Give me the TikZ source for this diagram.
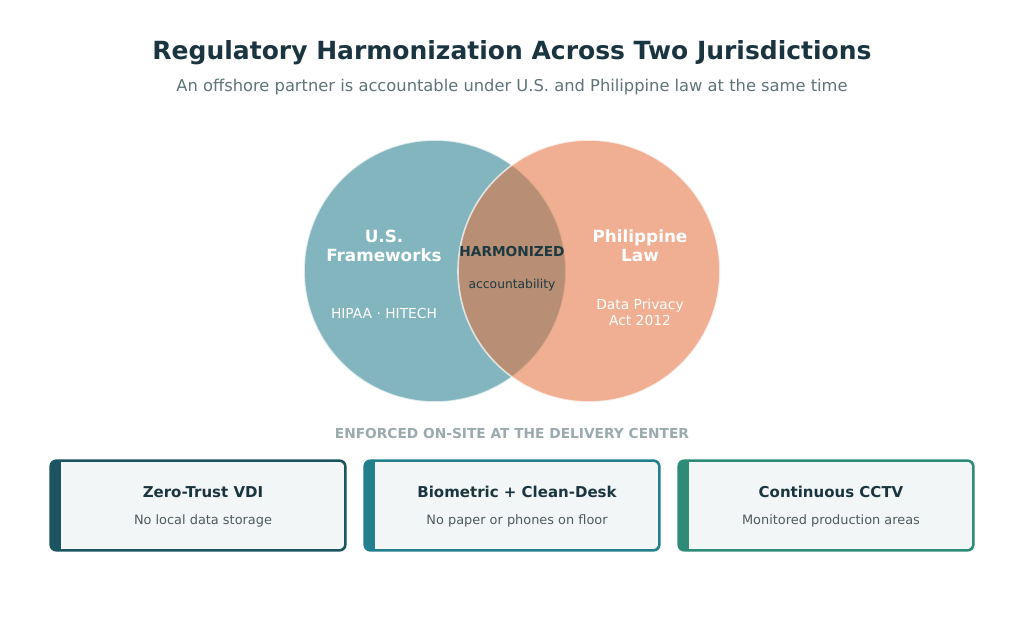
\documentclass[tikz,border=0pt]{standalone}
\usepackage{fontspec}
\setmainfont{DejaVu Sans}
\usetikzlibrary{positioning}
\definecolor{titlec}{HTML}{1B3540}
\definecolor{subc}{HTML}{5F7378}
\definecolor{usc}{HTML}{1E7A89}
\definecolor{phc}{HTML}{E46F39}
\definecolor{harmc}{HTML}{1C3A40}
\definecolor{enfc}{HTML}{9AAAAE}
\definecolor{boxfill}{HTML}{F2F6F7}
\definecolor{bA}{HTML}{1A5560}
\definecolor{bB}{HTML}{237F8C}
\definecolor{bC}{HTML}{2E8B78}
\definecolor{cardtext}{HTML}{4F5B5E}
\tikzset{
  venn/.style={circle, minimum size=262pt, inner sep=0pt, fill opacity=0.55, draw=white, draw opacity=0.7, line width=1.6pt},
  venntitle/.style={text=white, font=\bfseries\fontsize{16.8}{19}\selectfont, align=center},
  venntext/.style={text=white, font=\fontsize{13.8}{16}\selectfont, align=center},
  card/.style={rounded corners=6pt, fill=boxfill, line width=1.6pt, minimum width=294pt, minimum height=89pt, inner sep=0pt},
  cardtitle/.style={text=titlec, font=\bfseries\fontsize{15}{17}\selectfont},
  cardsub/.style={text=cardtext, font=\fontsize{12.9}{15}\selectfont},
}
\begin{document}
\begin{tikzpicture}[x=1pt,y=-1pt]
\useasboundingbox (0,0) rectangle (1024,616);
\fill[white] (0,0) rectangle (1024,616);
\node (title) at (512,53) {\bfseries\fontsize{25}{29}\selectfont\color{titlec}Regulatory Harmonization Across Two Jurisdictions};
\node (sub) at (512,87) {\fontsize{16.3}{19}\selectfont\color{subc}An offshore partner is accountable under U.S. and Philippine law at the same time};
% Venn
\node[venn, fill=usc] (us) at (435,271) {};
\node[venn, fill=phc] (ph) at (589,271) {};
\node[venntitle] (ust) at (384,246) {U.S.\\Frameworks};
\node[venntext] (ussub) at (384,313) {HIPAA · HITECH};
\node[venntitle] (pht) at (640,246) {Philippine\\Law};
\node[venntext] (phsub) at (640,312) {Data Privacy\\Act 2012};
\node[text=harmc, font=\bfseries\fontsize{13.7}{16}\selectfont] (harm) at (512,252) {HARMONIZED};
\node[text=harmc, font=\fontsize{12.3}{14}\selectfont] (acc) at (512,285) {accountability};
\node[text=enfc, font=\bfseries\fontsize{13.75}{16}\selectfont] (enf) at (512,433) {ENFORCED ON-SITE AT THE DELIVERY CENTER};
% cards
\foreach \cx/\col/\nm/\t/\s in {198/bA/cA/Zero-Trust VDI/No local data storage,
                                512/bB/cB/Biometric + Clean-Desk/No paper or phones on floor,
                                826/bC/cC/Continuous CCTV/Monitored production areas}{
  \node[card, draw=\col] (\nm) at (\cx,505.5) {};
  \begin{scope}
    \clip[rounded corners=6pt] (\nm.north west) rectangle (\nm.south east);
    \fill[\col] (\nm.north west) rectangle ([xshift=11pt]\nm.south west);
  \end{scope}
  \draw[\col, line width=1.6pt, rounded corners=6pt] (\nm.north west) rectangle (\nm.south east);
  \node[cardtitle] (\nm t) at (\cx+5,492) {\t};
  \node[cardsub] (\nm s) at (\cx+5,521) {\s};
}
\end{tikzpicture}
\end{document}
